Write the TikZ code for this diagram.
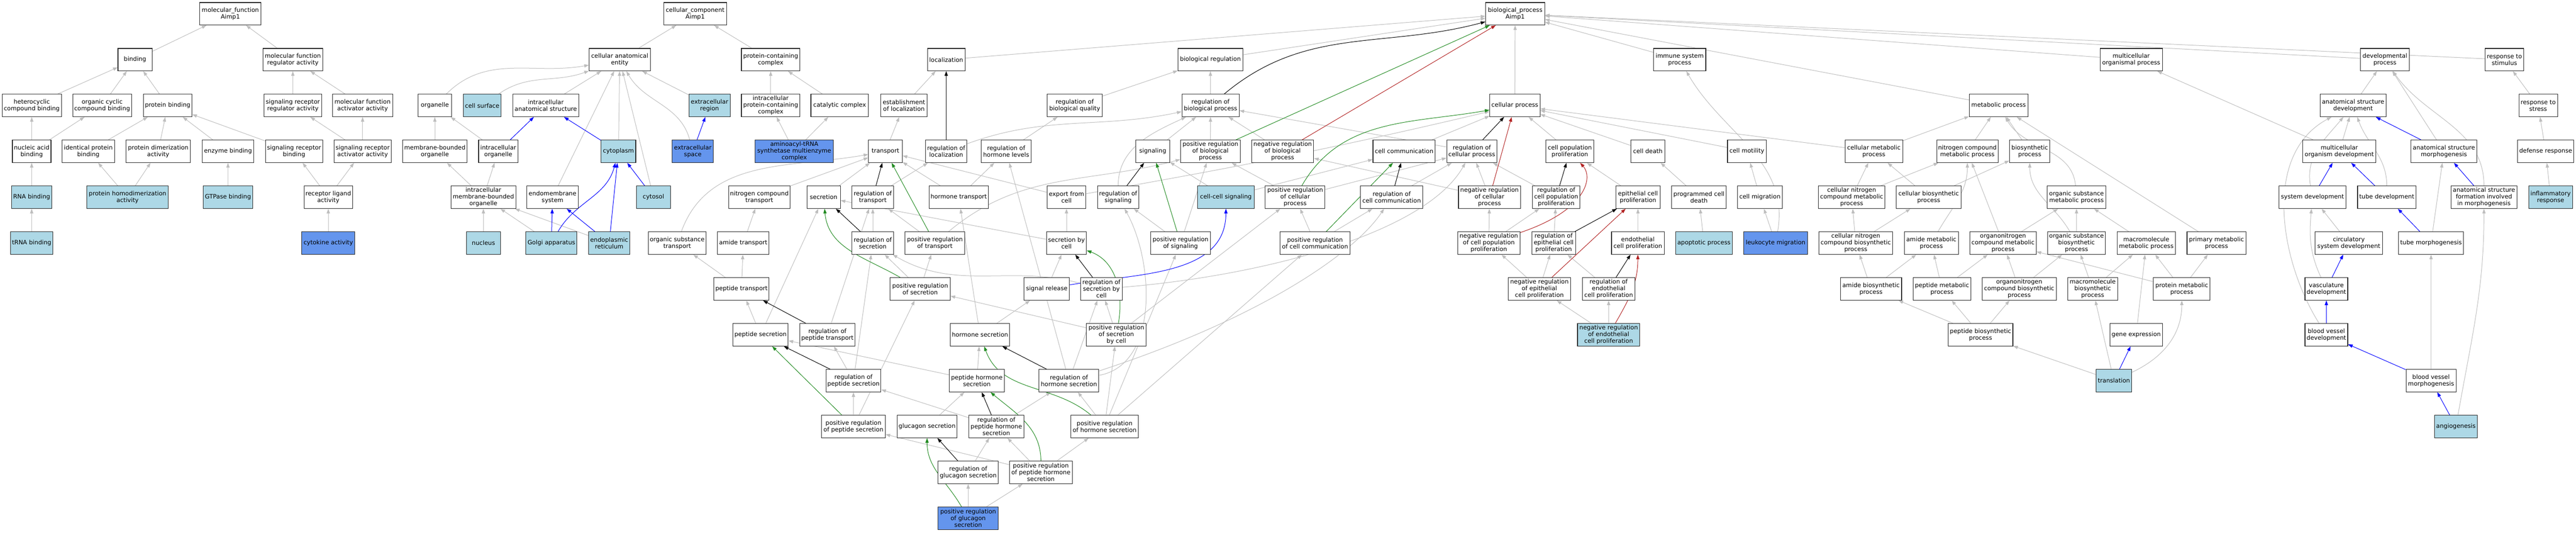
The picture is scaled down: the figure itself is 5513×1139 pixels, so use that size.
\documentclass[tikz,border=0pt]{standalone}
\usepackage{fontspec}
\setmainfont{DejaVu Sans}
\usetikzlibrary{arrows.meta,backgrounds}
\definecolor{lb}{HTML}{ADD8E6}
\definecolor{cbl}{HTML}{6495ED}
\definecolor{eg}{HTML}{BEBEBE}
\definecolor{fgr}{HTML}{228B22}
\definecolor{fbr}{HTML}{B22222}
\newcommand{\gonode}[6]{\node[#1,minimum width=#5pt] (#2) at (#3,{29.5+98.1*#4}) {#6};}
\begin{document}
\begin{tikzpicture}[x=1pt,y=-1pt,
 box/.style={draw=black!85,line width=1.2pt,fill=white,minimum height=48pt,inner xsep=3pt,inner ysep=3pt,align=center,font=\fontsize{12.8}{14.4}\selectfont},
 lbx/.style={box,fill=lb},
 cbx/.style={box,fill=cbl},
 ed/.style={line width=1.1pt,-{Triangle[length=10pt,width=7pt]}},
 ge/.style={ed,color=eg},
 be/.style={ed,color=black},
 ble/.style={ed,color=blue},
 gre/.style={ed,color=fgr},
 ree/.style={ed,color=fbr}]
\useasboundingbox (0,0) rectangle (5513,1139);
% ---------------- molecular function
\gonode{box}{mf}{493}{0}{131}{molecular\_function\\Aimp1}
\gonode{box}{bind}{289}{1}{73}{binding}
\gonode{box}{mfra}{626.7}{1}{128}{molecular function\\regulator activity}
\gonode{box}{hcb}{68}{2}{127}{heterocyclic\\compound binding}
\gonode{box}{occb}{218.6}{2}{126}{organic cyclic\\compound binding}
\gonode{box}{pb}{358.8}{2}{104}{protein binding}
\gonode{box}{srra}{626.7}{2}{123}{signaling receptor\\regulator activity}
\gonode{box}{mfaa}{776}{2}{128.5}{molecular function\\activator activity}
\gonode{box}{nab}{67.8}{3}{82.7}{nucleic acid\\binding}
\gonode{box}{ipb}{189}{3}{112}{identical protein\\binding}
\gonode{box}{pda}{338.6}{3}{138.5}{protein dimerization\\activity}
\gonode{box}{eb}{487.9}{3}{109.7}{enzyme binding}
\gonode{box}{srb}{629.3}{3}{122.6}{signaling receptor\\binding}
\gonode{box}{sraa}{776}{3}{122.6}{signaling receptor\\activator activity}
\gonode{lbx}{rnab}{67.8}{4}{86}{RNA binding}
\gonode{lbx}{phda}{273}{4}{174}{protein homodimerization\\activity}
\gonode{lbx}{gtpb}{487.9}{4}{106}{GTPase binding}
\gonode{box}{rla}{702.6}{4}{104}{receptor ligand\\activity}
\gonode{lbx}{trnab}{67.8}{5}{91}{tRNA binding}
\gonode{cbx}{cyto}{702.6}{5}{114}{cytokine activity}
% ---------------- cellular component
\gonode{box}{cc}{1487.7}{0}{134.4}{cellular\_component\\Aimp1}
\gonode{box}{cae}{1326.3}{1}{130.8}{cellular anatomical\\entity}
\gonode{box}{pcc}{1649.4}{1}{125.5}{protein-containing\\complex}
\gonode{box}{org}{930.6}{2}{71.6}{organelle}
\gonode{lbx}{csurf}{1032}{2}{81}{cell surface}
\gonode{box}{ias}{1168}{2}{141.4}{intracellular\\anatomical structure}
\gonode{lbx}{exreg}{1518.5}{2}{88}{extracellular\\region}
\gonode{box}{ipcc}{1649.4}{2}{125.5}{intracellular\\protein-containing\\complex}
\gonode{box}{catc}{1797}{2}{123}{catalytic complex}
\gonode{box}{mbo}{930.6}{3}{138.4}{membrane-bounded\\organelle}
\gonode{box}{iorg}{1066.3}{3}{84}{intracellular\\organelle}
\gonode{lbx}{cplasm}{1323.6}{3}{74}{cytoplasm}
\gonode{cbx}{exsp}{1482.7}{3}{88}{extracellular\\space}
\gonode{cbx}{aars}{1699.8}{3}{167.8}{aminoacyl-tRNA\\synthetase multienzyme\\complex}
\gonode{box}{imbo}{1034.5}{4}{138.5}{intracellular\\membrane-bounded\\organelle}
\gonode{box}{endo}{1182.5}{4}{109.7}{endomembrane\\system}
\gonode{lbx}{csol}{1398.5}{4}{72.2}{cytosol}
\gonode{lbx}{nuc}{1034.7}{5}{72}{nucleus}
\gonode{lbx}{golgi}{1180}{5}{109}{Golgi apparatus}
\gonode{lbx}{er}{1303.7}{5}{88}{endoplasmic\\reticulum}
% ---------------- biological process
\gonode{box}{bp}{3242.6}{0}{126.2}{biological\_process\\Aimp1}
\gonode{box}{loc}{2025}{1}{80.4}{localization}
\gonode{box}{breg}{2590.4}{1}{138.5}{biological regulation}
\gonode{box}{isp}{3594.7}{1}{112}{immune system\\process}
\gonode{box}{mop}{4561}{1}{133.5}{multicellular\\organismal process}
\gonode{box}{dev}{5104}{1}{104.3}{developmental\\process}
\gonode{box}{rstim}{5359.8}{1}{82.7}{response to\\stimulus}
\gonode{box}{estloc}{1934.5}{2}{98.6}{establishment\\of localization}
\gonode{box}{rbq}{2300}{2}{118.5}{regulation of\\biological quality}
\gonode{box}{rbp}{2590.7}{2}{122.6}{regulation of\\biological process}
\gonode{box}{cp}{3242}{2}{107.4}{cellular process}
\gonode{box}{metab}{4277.3}{2}{125.6}{metabolic process}
\gonode{box}{asd}{5035.8}{2}{141.5}{anatomical structure\\development}
\gonode{box}{rstress}{5432}{2}{82.7}{response to\\stress}
\gonode{box}{trans}{1894.9}{3}{72.2}{transport}
\gonode{box}{rloc}{2025}{3}{88.6}{regulation of\\localization}
\gonode{box}{rhl}{2153.3}{3}{106.8}{regulation of\\hormone levels}
\gonode{box}{sig}{2467}{3}{72.2}{signaling}
\gonode{box}{prbp}{2590.4}{3}{127.9}{positive regulation\\of biological\\process}
\gonode{box}{nrbp}{2745}{3}{133}{negative regulation\\of biological\\process}
\gonode{box}{ccomm}{3005}{3}{133.2}{cell communication}
\gonode{box}{rcp}{3149.9}{3}{107.4}{regulation of\\cellular process}
\gonode{box}{cpp}{3359.7}{3}{102.1}{cell population\\proliferation}
\gonode{box}{cdeath}{3526.6}{3}{72.2}{cell death}
\gonode{box}{cmot}{3738.6}{3}{83.3}{cell motility}
\gonode{box}{cmet}{4010.3}{3}{123.2}{cellular metabolic\\process}
\gonode{box}{ncmet}{4210.4}{3}{131.4}{nitrogen compound\\metabolic process}
\gonode{box}{biosyn}{4343.9}{3}{86.2}{biosynthetic\\process}
\gonode{box}{mod}{5006.4}{3}{157.2}{multicellular\\organism development}
\gonode{box}{asm}{5230.3}{3}{141.5}{anatomical structure\\morphogenesis}
\gonode{box}{defr}{5448}{3}{120.5}{defense response}
\gonode{box}{nct}{1625}{4}{130.8}{nitrogen compound\\transport}
\gonode{box}{secr}{1762.6}{4}{71.6}{secretion}
\gonode{box}{rtrans}{1867.9}{4}{88.6}{regulation of\\transport}
\gonode{box}{htrans}{2051.8}{4}{125.6}{hormone transport}
\gonode{box}{exp}{2282.4}{4}{83.3}{export from\\cell}
\gonode{box}{rsig}{2393}{4}{88.6}{regulation of\\signaling}
\gonode{lbx}{ccs}{2623.6}{4}{120.3}{cell-cell signaling}
\gonode{box}{prcp}{2771.8}{4}{128}{positive regulation\\of cellular\\process}
\gonode{box}{rcc}{2978.3}{4}{133.8}{regulation of\\cell communication}
\gonode{box}{nrcp}{3187.7}{4}{132.6}{negative regulation\\of cellular\\process}
\gonode{box}{rcpp}{3330.4}{4}{101}{regulation of\\cell population\\proliferation}
\gonode{box}{ecp}{3505.5}{4}{94.5}{epithelial cell\\proliferation}
\gonode{box}{pcd}{3636}{4}{117.4}{programmed cell\\death}
\gonode{box}{cmig}{3766.5}{4}{95.7}{cell migration}
\gonode{box}{cncmet}{3962.8}{4}{142}{cellular nitrogen\\compound metabolic\\process}
\gonode{box}{cbio}{4127.7}{4}{138.4}{cellular biosynthetic\\process}
\gonode{box}{osmet}{4444}{4}{125.6}{organic substance\\metabolic process}
\gonode{box}{sysdev}{4949}{4}{143.8}{system development}
\gonode{box}{tubedev}{5108}{4}{125.2}{tube development}
\gonode{box}{asfim}{5316}{4}{141.5}{anatomical structure\\formation involved\\in morphogenesis}
\gonode{lbx}{infl}{5458.5}{4}{93.7}{inflammatory\\response}
\gonode{box}{ost}{1449.2}{5}{123.2}{organic substance\\transport}
\gonode{box}{amt}{1590.7}{5}{110.3}{amide transport}
\gonode{box}{rsec}{1867.9}{5}{88.6}{regulation of\\secretion}
\gonode{box}{prtrans}{2000.8}{5}{128}{positive regulation\\of transport}
\gonode{box}{sbc}{2282.4}{5}{85.6}{secretion by\\cell}
\gonode{box}{prsig}{2526.5}{5}{128}{positive regulation\\of signaling}
\gonode{box}{prcc}{2814.3}{5}{149.6}{positive regulation\\of cell communication}
\gonode{box}{nrcpp}{3186.3}{5}{133.2}{negative regulation\\of cell population\\proliferation}
\gonode{box}{recp}{3325}{5}{93.9}{regulation of\\epithelial cell\\proliferation}
\gonode{box}{endcp}{3505.2}{5}{112.6}{endothelial\\cell proliferation}
\gonode{lbx}{apop}{3646.6}{5}{120.8}{apoptotic process}
\gonode{cbx}{leuk}{3800}{5}{136.7}{leukocyte migration}
\gonode{box}{cncbio}{3971.6}{5}{158.4}{cellular nitrogen\\compound biosynthetic\\process}
\gonode{box}{amet}{4133.3}{5}{115.6}{amide metabolic\\process}
\gonode{box}{onmet}{4286.7}{5}{142}{organonitrogen\\compound metabolic\\process}
\gonode{box}{osbio}{4444}{5}{123.3}{organic substance\\biosynthetic\\process}
\gonode{box}{mmet}{4593.3}{5}{125}{macromolecule\\metabolic process}
\gonode{box}{pmet}{4743.6}{5}{126.3}{primary metabolic\\process}
\gonode{box}{circ}{5026.8}{5}{144.4}{circulatory\\system development}
\gonode{box}{tmorph}{5202.7}{5}{138.6}{tube morphogenesis}
\gonode{box}{ptrans}{1586.9}{6}{118}{peptide transport}
\gonode{box}{prsec}{1969.3}{6}{128.5}{positive regulation\\of secretion}
\gonode{box}{sigrel}{2240.2}{6}{97.4}{signal release}
\gonode{box}{rsbc}{2357.2}{6}{88.6}{regulation of\\secretion by\\cell}
\gonode{box}{nrecp}{3294.5}{6}{133.8}{negative regulation\\of epithelial\\cell proliferation}
\gonode{box}{rendcp}{3442.7}{6}{112}{regulation of\\endothelial\\cell proliferation}
\gonode{box}{abio}{4004.2}{6}{130.8}{amide biosynthetic\\process}
\gonode{box}{pepmet}{4156.1}{6}{123.8}{peptide metabolic\\process}
\gonode{box}{onbio}{4321.3}{6}{158.4}{organonitrogen\\compound biosynthetic\\process}
\gonode{box}{mbio}{4478.6}{6}{106.8}{macromolecule\\biosynthetic\\process}
\gonode{box}{pmetp}{4669.3}{6}{121.1}{protein metabolic\\process}
\gonode{box}{vasc}{4978.7}{6}{91.5}{vasculature\\development}
\gonode{box}{psec}{1627.6}{7}{118.5}{peptide secretion}
\gonode{box}{rptrans}{1770.8}{7}{118.5}{regulation of\\peptide transport}
\gonode{box}{hsec}{2097.3}{7}{127.3}{hormone secretion}
\gonode{box}{prsbc}{2389.2}{7}{128}{positive regulation\\of secretion\\by cell}
\gonode{lbx}{nrendcp}{3442.7}{7}{133.2}{negative regulation\\of endothelial\\cell proliferation}
\gonode{box}{pbio}{4238.6}{7}{138.4}{peptide biosynthetic\\process}
\gonode{box}{gexp}{4571.7}{7}{112.4}{gene expression}
\gonode{box}{bvdev}{4978.7}{7}{91.5}{blood vessel\\development}
\gonode{box}{rpsec}{1826.5}{8}{117.3}{regulation of\\peptide secretion}
\gonode{box}{phsec}{2090.5}{8}{117.3}{peptide hormone\\secretion}
\gonode{box}{rhsec}{2287.7}{8}{128}{regulation of\\hormone secretion}
\gonode{lbx}{trl}{4524}{8}{75.7}{translation}
\gonode{box}{bvm}{5202.7}{8}{107.1}{blood vessel\\morphogenesis}
\gonode{box}{prpsec}{1826.5}{9}{136}{positive regulation\\of peptide secretion}
\gonode{box}{glus}{1984}{9}{128.5}{glucagon secretion}
\gonode{box}{rphsec}{2132.2}{9}{117.4}{regulation of\\peptide hormone\\secretion}
\gonode{box}{prhsec}{2364}{9}{144.3}{positive regulation\\of hormone secretion}
\gonode{lbx}{angio}{5256}{9}{91.4}{angiogenesis}
\gonode{box}{rglu}{2072}{10}{128.5}{regulation of\\glucagon secretion}
\gonode{box}{prphsec}{2227.6}{10}{134.4}{positive regulation\\of peptide hormone\\secretion}
\gonode{cbx}{prglu}{2072}{11}{128.5}{positive regulation\\of glucagon\\secretion}
% ---------------- edges
\begin{pgfonlayer}{background}
\foreach \a/\b in {bind/mf,mfra/mf,hcb/bind,occb/bind,pb/bind,srra/mfra,mfaa/mfra,nab/hcb,nab/occb,ipb/pb,pda/pb,eb/pb,srb/pb,sraa/srra,sraa/mfaa,rnab/nab,phda/ipb,phda/pda,gtpb/eb,rla/srb,rla/sraa,trnab/rnab,cyto/rla,
 cae/cc,pcc/cc,ias/cae,endo/cae,cplasm/cae,csol/cae,exreg/cae,mbo/org,iorg/org,ipcc/pcc,catc/pcc,aars/ipcc,aars/catc,imbo/mbo,imbo/iorg,nuc/imbo,golgi/imbo,er/imbo,
 loc/bp,breg/bp,isp/bp,mop/bp,dev/bp,rstim/bp,cp/bp,metab/bp,estloc/loc,rbq/breg,rbp/breg,trans/estloc,rhl/rbq,sig/rbp,prbp/rbp,nrbp/rbp,rcp/rbp,
 ccomm/cp,cpp/cp,cdeath/cp,cmot/cp,cmet/cp,ccs/ccomm,nrcp/nrbp,prcp/rcp,rcc/rcp,nrcp/rcp,rcpp/rcp,ecp/cpp,pcd/cdeath,apop/pcd,cmig/cmot,leuk/cmig,
 cmet/metab,ncmet/metab,biosyn/metab,pmet/metab,prcc/prcp,prcc/rcc,nrcpp/nrcp,nrcpp/rcpp,recp/rcpp,nrecp/nrcpp,nrecp/recp,endcp/ecp,rendcp/recp,nrendcp/nrecp,nrendcp/rendcp,
 cncmet/cmet,cncmet/ncmet,cbio/cmet,cbio/biosyn,onmet/osmet,osbio/osmet,mmet/osmet,onmet/ncmet,cncbio/cncmet,cncbio/cbio,abio/cncbio,abio/amet,pepmet/amet,pepmet/onmet,
 onbio/onmet,onbio/osbio,mbio/osbio,mbio/mmet,pmetp/onmet,pmetp/mmet,pmetp/pmet,gexp/mmet,pbio/abio,pbio/pepmet,pbio/onbio,trl/pbio,trl/mbio,
 asd/dev,asm/dev,rstress/rstim,defr/rstress,infl/defr,mod/mop,mod/asd,tmorph/asm,circ/sysdev,bvm/tmorph,
 nct/trans,secr/trans,htrans/trans,exp/trans,rtrans/rloc,amt/nct,ptrans/ost,ptrans/amt,psec/ptrans,psec/secr,rptrans/rtrans,rpsec/rptrans,rpsec/rsec,phsec/psec,prpsec/rpsec,
 sbc/secr,prtrans/rtrans,prsec/rsec,prsec/prtrans,rsec/rtrans,htrans/rhl,hsec/htrans,hsec/sigrel,sigrel/sbc,sbc/exp,prsbc/rsbc,prsbc/prsec,prsbc/prcp,
 prsig/rsig,prsig/prbp,ccs/sig,prcp/prbp,phsec/hsec,rhsec/rsbc,rhsec/rhl,prhsec/rhsec,prhsec/prsbc,glus/phsec,rphsec/rhsec,rphsec/rpsec,rglu/rphsec,
 prphsec/rphsec,prphsec/prhsec,prphsec/prpsec,prglu/rglu,prglu/prphsec,prpsec/prsec,prhsec/prsig,prhsec/prcc}
 {\draw[ge] (\a) -- (\b);}
% gray curves
\draw[ge] (org) to[out=45,in=190] (cae);
\draw[ge] (csurf) to[out=35,in=200] (cae);
\draw[ge] (exsp) to[out=105,in=-60] (cae);
\draw[ge] (ost) to[out=70,in=190] (trans);
\draw[ge] (exp) .. controls (2600,365) and (2800,330) .. (cp);
\draw[ge] (leuk) to[out=80,in=-60] (isp);
\draw[ge] (osmet) to[out=95,in=-60] (metab);
\draw[ge] (amet) to[out=60,in=-90] (ncmet);
\draw[ge] (osbio) to[out=120,in=-90] (biosyn);
\draw[ge] (trl) to[out=25,in=-90] (pmetp);
\draw[ge] (asfim) to[out=90,in=-55] (dev);
\draw[ge] (sysdev) to[out=100,in=-130] (asd);
\draw[ge] (tubedev) to[out=90,in=-70] (asd);
\draw[ge] (bvdev) .. controls (4880,560) and (4840,330) .. (asd);
\draw[ge] (vasc) to[out=115,in=-95] (sysdev);
\draw[ge] (angio) to[out=80,in=-90] (asfim);
\draw[ge] (rloc) to[out=20,in=192] (rbp);
\draw[ge] (rsig) to[out=90,in=205] (rbp);
\draw[ge] (prtrans) to[out=40,in=195] (prbp);
\draw[ge] (rsbc) to[out=165,in=-30] (rsec);
\draw[ge] (rsbc) .. controls (2700,590) and (3050,500) .. (rcp);
\draw[ge] (rhsec) .. controls (2480,780) and (2470,560) .. (rsig);
\draw[ge] (rhsec) .. controls (2700,680) and (2900,540) .. (rcc);
% black
\draw[be] (rbp) to[out=40,in=195] (bp);
\foreach \a/\b in {rloc/loc,rcp/cp,rcc/ccomm,rcpp/cpp,recp/ecp,rendcp/endcp,rtrans/trans,rptrans/ptrans,rpsec/psec,rsec/secr,rsbc/sbc,rsig/sig,rhsec/hsec,rphsec/phsec,rglu/glus}
 {\draw[be] (\a) -- (\b);}
% blue
\foreach \a/\b in {iorg/ias,cplasm/ias,exsp/exreg,golgi/endo,er/endo,er/cplasm,csol/cplasm,trl/gexp,asm/asd,sysdev/mod,tubedev/mod,asfim/asm,tmorph/tubedev,vasc/circ,bvdev/vasc,bvm/bvdev,angio/bvm}
 {\draw[ble] (\a) -- (\b);}
\draw[ble] (golgi) to[out=60,in=-105] (cplasm);
\draw[ble] (sigrel) to[out=10,in=-90] (ccs);
% green
\draw[gre] (prbp) -- (bp);
\draw[gre] (prcc) -- (ccomm);
\draw[gre] (prtrans) -- (trans);
\draw[gre] (prpsec) -- (psec);
\draw[gre] (prsig) -- (sig);
\draw[gre] (prcp) to[out=60,in=190] (cp);
\draw[gre] (prsec) to[out=150,in=-85] (secr);
\draw[gre] (prsbc) to[out=80,in=-20] (sbc);
\draw[gre] (prhsec) to[out=140,in=-70] (hsec);
\draw[gre] (prphsec) to[out=90,in=-40] (phsec);
\draw[gre] (prglu) to[out=120,in=-90] (glus);
% red
\draw[ree] (nrbp) -- (bp);
\draw[ree] (nrcp) -- (cp);
\draw[ree] (nrecp) -- (ecp);
\draw[ree] (nrcpp) .. controls (3395,450) and (3410,380) .. (cpp);
\draw[ree] (nrendcp) to[out=60,in=-90] (endcp);
\end{pgfonlayer}
\end{tikzpicture}
\end{document}
